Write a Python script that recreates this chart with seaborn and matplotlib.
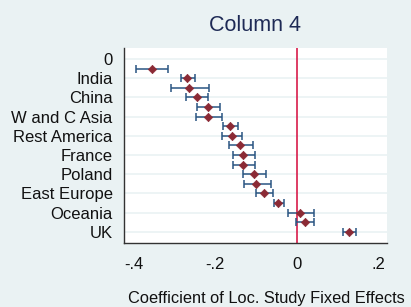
import numpy as np
import pandas as pd
import matplotlib
matplotlib.use("Agg")
import matplotlib.pyplot as plt
import seaborn as sns

# point estimates and 95% CI, one row per position 1..18 (top to bottom)
positions = list(range(1, 19))
coef = [-0.356, -0.269, -0.264, -0.245, -0.217, -0.217, -0.164, -0.159, -0.138,
        -0.131, -0.131, -0.105, -0.099, -0.081, -0.046, 0.007, 0.020, 0.129]
ci_lo = [-0.394, -0.284, -0.308, -0.271, -0.244, -0.247, -0.182, -0.184, -0.165,
         -0.156, -0.156, -0.132, -0.130, -0.101, -0.056, -0.021, -0.002, 0.114]
ci_hi = [-0.315, -0.249, -0.214, -0.218, -0.189, -0.183, -0.144, -0.133, -0.107,
         -0.102, -0.102, -0.076, -0.063, -0.058, -0.031, 0.042, 0.042, 0.146]
ytick_pos = [0, 2, 4, 6, 8, 10, 12, 14, 16, 18]
ytick_labels = ["0", "India", "China", "W and C Asia", "Rest America", "France",
                "Poland", "East Europe", "Oceania", "UK"]
xtick_pos = [-0.4, -0.2, 0, 0.2]
xtick_labels = ["-.4", "-.2", "0", ".2"]

df = pd.DataFrame({"pos": positions, "coef": coef, "lo": ci_lo, "hi": ci_hi})

sns.set_style("white")
plt.rcParams["font.family"] = ["Liberation Sans", "DejaVu Sans"]

bg = "#eaf2f3"
fig = plt.figure(figsize=(4.11, 3.07), dpi=100, facecolor=bg)
ax = fig.add_axes([0.301, 0.2094, 0.6406, 0.634])
ax.set_facecolor("white")

for y in ytick_pos:
    ax.axhline(y, color="#eaf2f3", lw=1.2, zorder=0)

ax.axvline(0, color="#d81b4a", lw=1.2, zorder=1)

ax.errorbar(df["coef"], df["pos"],
            xerr=[df["coef"] - df["lo"], df["hi"] - df["coef"]],
            fmt="none", ecolor="#2a5582", elinewidth=1.1, capsize=3,
            capthick=1.1, zorder=2)
sns.scatterplot(data=df, x="coef", y="pos", marker="D", s=18,
                color="#8b2a35", edgecolor="#8b2a35", linewidth=0.5,
                zorder=3, ax=ax)

ax.set_xlim(-0.4245, 0.2216)
ax.set_ylim(19.15, -1.15)
ax.set_xticks(xtick_pos)
ax.set_xticklabels(xtick_labels)
ax.set_yticks(ytick_pos)
ax.set_yticklabels(ytick_labels)
ax.tick_params(axis="both", labelsize=12, length=5, width=1, color="#333333",
               labelcolor="#111111", direction="out", pad=3)
ax.tick_params(axis="x", pad=5)

for s in ["top", "right"]:
    ax.spines[s].set_visible(False)
for s in ["left", "bottom"]:
    ax.spines[s].set_color("#333333")
    ax.spines[s].set_linewidth(1)

ax.set_ylabel("")
ax.set_xlabel("Coefficient of Loc. Study Fixed Effects", fontsize=11.8,
              color="#111111")
ax.xaxis.set_label_coords(0.54, -0.25)
ax.xaxis.label.set_va("top")

ax.set_title("Column 4", fontsize=15.5, color="#1e2a55", pad=12)

fig.savefig("out.png", dpi=100, facecolor=bg)
